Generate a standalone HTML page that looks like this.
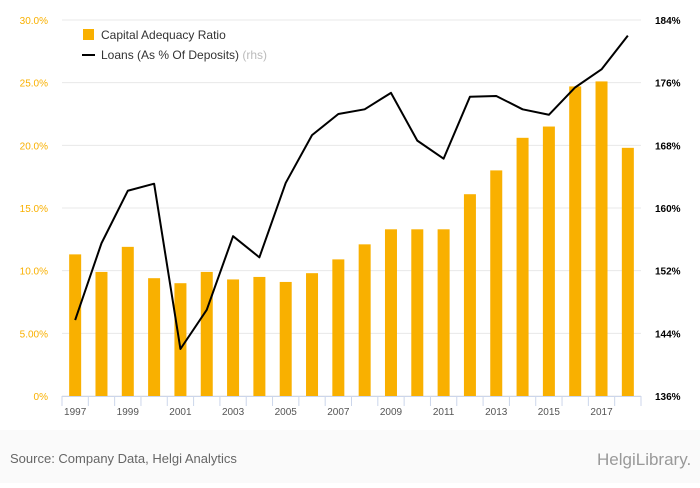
<!DOCTYPE html>
<html><head><meta charset="utf-8"><style>
body{margin:0;background:#fff;font-family:"Liberation Sans",sans-serif}
svg text{font-family:"Liberation Sans",sans-serif}
</style></head><body>
<svg id="c" width="700" height="483">
<rect x="0" y="0" width="700" height="483" fill="#fff"/>
<rect x="0" y="430" width="700" height="53" fill="#fafafa"/>
<g id="grid"></g><g id="bars"></g><g id="line"></g><g id="axes"></g>
<g>
<rect x="83" y="29" width="11" height="11" fill="#f9b000"/>
<text x="101" y="39" font-size="12" fill="#333">Capital Adequacy Ratio</text>
<line x1="82" y1="55" x2="95" y2="55" stroke="#000" stroke-width="2"/>
<text x="101" y="59" font-size="12" fill="#333">Loans (As % Of Deposits) <tspan fill="#bbb">(rhs)</tspan></text>
</g>
<text x="10" y="463" font-size="13" fill="#666">Source: Company Data, Helgi Analytics</text>
<text x="597" y="465" font-size="17" fill="#999">HelgiLibrary.</text>
</svg>
<script>
const years=["1997","1998","1999","2000","2001","2002","2003","2004","2005","2006","2007","2008","2009","2010","2011","2012","2013","2014","2015","2016","2017","2018"];
const car=[11.3,9.9,11.9,9.4,9.0,9.9,9.3,9.5,9.1,9.8,10.9,12.1,13.3,13.3,13.3,16.1,18.0,20.6,21.5,24.7,25.1,19.8];
const loans=[145.7,155.5,162.2,163.1,142.0,147.0,156.4,153.7,163.2,169.3,172.0,172.6,174.7,168.6,166.3,174.2,174.3,172.6,171.9,175.4,177.7,182.0];
const leftTicks=[0,5,10,15,20,25,30];
const leftLabels=["0%","5.00%","10.0%","15.0%","20.0%","25.0%","30.0%"];
const rightTicks=[136,144,152,160,168,176,184];
const rightLabels=["136%","144%","152%","160%","168%","176%","184%"];
const NS="http://www.w3.org/2000/svg";
const x0=62,x1=641,yT=20,yB=396;
const bw=(x1-x0)/years.length;
const xc=i=>x0+bw*(i+0.5);
const yL=v=>yB-(v/30)*(yB-yT);
const yR=v=>yB-((v-136)/48)*(yB-yT);
function mk(t,a,p){const e=document.createElementNS(NS,t);for(const k in a)e.setAttribute(k,a[k]);p.appendChild(e);return e;}
const G=document.getElementById('grid'),B=document.getElementById('bars'),L=document.getElementById('line'),A=document.getElementById('axes');
leftTicks.forEach((v,i)=>{
 const g=mk('line',{x1:x0,x2:x1,y1:yL(v),y2:yL(v),stroke:'#e8e8e8'},G);
 
 
 const t=mk('text',{x:48,y:yL(v)+4,'font-size':10,fill:'#f9b000','text-anchor':'end'},A);t.textContent=leftLabels[i];
 
 
});
rightTicks.forEach((v,i)=>{
 const t=mk('text',{x:655,y:yR(v)+4,'font-size':10,fill:'#000','font-weight':'bold'},A);t.textContent=rightLabels[i];
 
 
});
const ax=mk('line',{x1:x0,x2:x1,y1:yB+0.5,y2:yB+0.5,stroke:'#ccd6eb'},A);


for(let i=0;i<=years.length;i++){const t=mk('line',{x1:x0+bw*i,x2:x0+bw*i,y1:yB,y2:yB+10,stroke:'#ccd6eb'},A);
 
 }
years.forEach((y,i)=>{
 const r=mk('rect',{x:xc(i)-6,y:yL(car[i]),width:12,height:yB-yL(car[i]),fill:'#f9b000'},B);
 
 
 if(i%2===0){const t=mk('text',{x:xc(i),y:415,'font-size':10,fill:'#555','text-anchor':'middle'},A);t.textContent=y;
 
 }
});
const p=mk('path',{d:loans.map((v,i)=>(i?'L':'M')+xc(i)+','+yR(v)).join(''),fill:'none',stroke:'#000','stroke-width':2,'stroke-linejoin':'round'},L);


</script>
</body></html>
